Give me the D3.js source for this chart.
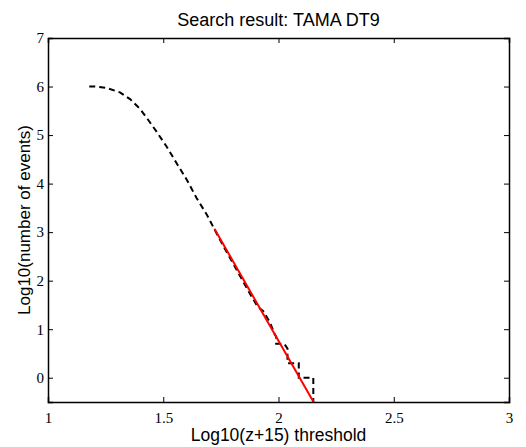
<!DOCTYPE html>
<html><head><meta charset="utf-8">
<script src="https://cdn.jsdelivr.net/npm/d3@7"></script>
<style>body{margin:0;background:#fff}</style>
</head><body>
<script>
// Data
const curveX = [1.179,1.204,1.255,1.312,1.356,1.399,1.435,1.471,1.515,1.558,1.602,1.645,1.689,1.722,1.76,1.80,1.84,1.88,1.91,1.934,1.963,1.983,1.99,1.99,2.025,2.039,2.039,2.088,2.088,2.151,2.151];
const curveY = [6.00,6.00,5.97,5.88,5.74,5.54,5.31,5.07,4.76,4.42,4.08,3.70,3.36,3.06,2.72,2.38,2.04,1.70,1.46,1.37,1.14,0.90,0.845,0.699,0.699,0.602,0.301,0.301,0,0,-0.6];
const fitX = [1.722, 2.152];
const fitY = [3.07, -0.5];
const xTicks = [1, 1.5, 2, 2.5, 3];
const yTicks = [0, 1, 2, 3, 4, 5, 6, 7];
const titleText = "Search result: TAMA DT9";
const xLabel = "Log10(z+15) threshold";
const yLabel = "Log10(number of events)";

const W = 526, H = 447;
const m = {left:48, right:17, top:38, bottom:45};
const svg = d3.select("body").append("svg").attr("width", W).attr("height", H);
const x = d3.scaleLinear().domain([1,3]).range([m.left, W - m.right]);
const y = d3.scaleLinear().domain([-0.5,7]).range([H - m.bottom, m.top]);

svg.append("clipPath").attr("id","c").append("rect")
  .attr("x", x(1)).attr("y", y(7)).attr("width", x(3)-x(1)).attr("height", y(-0.5)-y(7));

const line = d3.line().x(d=>x(d[0])).y(d=>y(d[1]));
const g = svg.append("g").attr("clip-path","url(#c)");
g.append("path").datum(curveX.map((v,i)=>[v,curveY[i]]))
  .attr("d", line).attr("fill","none").attr("stroke","#000")
  .attr("stroke-width",2).attr("stroke-dasharray","6,4");
g.append("path").datum(fitX.map((v,i)=>[v,fitY[i]]))
  .attr("d", line).attr("fill","none").attr("stroke","#ff0000")
  .attr("stroke-width",2);

// axes
const tickFont = "'Liberation Serif', 'Times New Roman', serif";
const xb = svg.append("g").attr("transform",`translate(0,${y(-0.5)})`)
  .call(d3.axisBottom(x).tickValues(xTicks).tickSize(-5).tickPadding(10).tickFormat(d3.format("")));
const xt = svg.append("g").attr("transform",`translate(0,${y(7)})`)
  .call(d3.axisTop(x).tickValues(xTicks).tickSize(-5).tickFormat(""));
const yl = svg.append("g").attr("transform",`translate(${x(1)},0)`)
  .call(d3.axisLeft(y).tickValues(yTicks).tickSize(-5).tickPadding(4).tickFormat(d3.format("")));
const yr = svg.append("g").attr("transform",`translate(${x(3)},0)`)
  .call(d3.axisRight(y).tickValues(yTicks).tickSize(-5).tickFormat(""));
[xb,xt,yl,yr].forEach(a=>{
  a.select(".domain").attr("stroke","#000").attr("stroke-width",1.5);
  a.selectAll(".tick line").attr("stroke","#000");
  a.selectAll("text").attr("font-family",tickFont).attr("font-size",15).attr("fill","#000");
});

const sans = "'Liberation Sans', Arial, Helvetica, sans-serif";
svg.append("text").attr("x",(x(1)+x(3))/2).attr("y",26).attr("text-anchor","middle")
  .attr("font-family",sans).attr("font-size",18).text(titleText);
svg.append("text").attr("x",(x(1)+x(3))/2).attr("y",441).attr("text-anchor","middle")
  .attr("font-family",sans).attr("font-size",17.5).text(xLabel);
svg.append("text").attr("transform",`translate(30,${(y(7)+y(-0.5))/2}) rotate(-90)`)
  .attr("text-anchor","middle").attr("font-family",sans).attr("font-size",17).text(yLabel);
</script>
</body></html>
